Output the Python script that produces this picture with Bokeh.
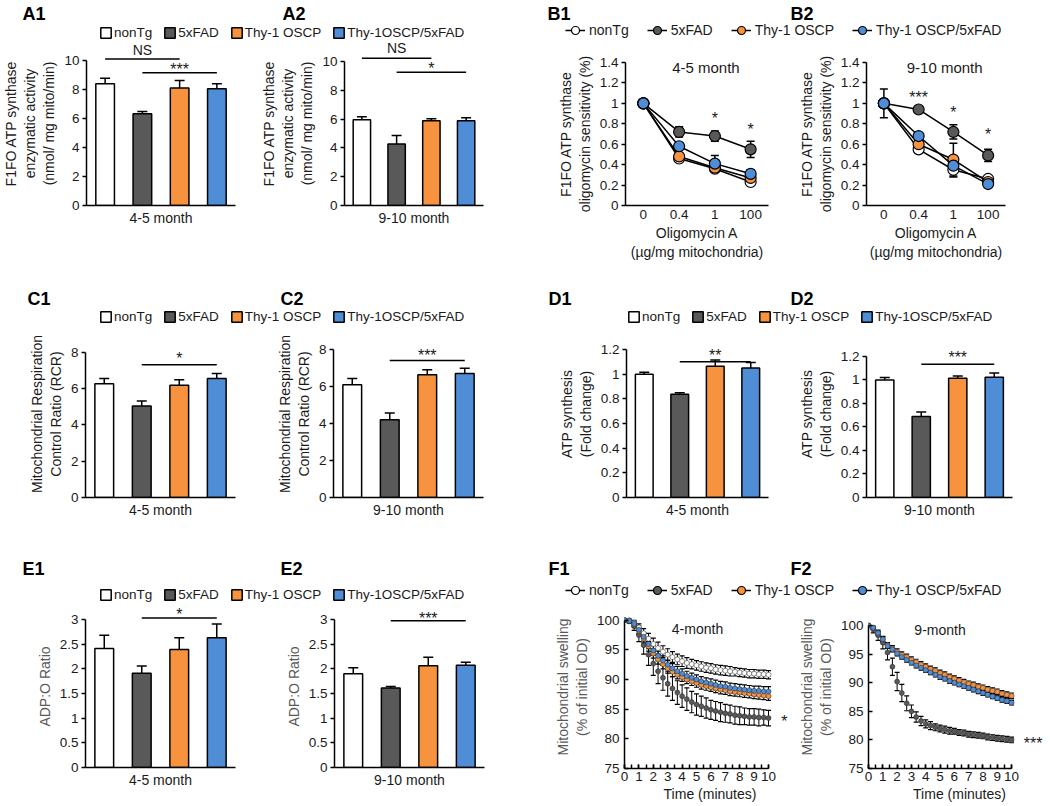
from bokeh.plotting import figure
from bokeh.layouts import row, column
from bokeh.models import (Range1d, FixedTicker, CustomJSTickFormatter, Legend, LegendItem,
                          Label, ColumnDataSource)
from bokeh.core.properties import value
from bokeh.embed import file_html
from bokeh.resources import INLINE

FONT = "Liberation Sans"

# ---------------- data ----------------
groups_bar = ["nonTg", "5xFAD", "Thy-1 OSCP", "Thy-1OSCP/5xFAD"]
groups_line = ["nonTg", "5xFAD", "Thy-1 OSCP", "Thy-1 OSCP/5xFAD"]
colors = ["#FFFFFF", "#595959", "#F7923F", "#4F8DD6"]

A1_vals = [8.39, 6.32, 8.11, 8.05]
A1_err = [0.39, 0.16, 0.51, 0.34]
A2_vals = [5.96, 4.27, 5.89, 5.89]
A2_err = [0.21, 0.60, 0.14, 0.21]
C1_vals = [6.28, 5.05, 6.19, 6.56]
C1_err = [0.28, 0.27, 0.30, 0.28]
C2_vals = [6.10, 4.20, 6.64, 6.71]
C2_err = [0.34, 0.37, 0.27, 0.28]
D1_vals = [1.00, 0.837, 1.065, 1.049]
D1_err = [0.015, 0.013, 0.049, 0.046]
D2_vals = [1.00, 0.690, 1.014, 1.024]
D2_err = [0.022, 0.037, 0.019, 0.036]
E1_vals = [2.41, 1.91, 2.39, 2.63]
E1_err = [0.27, 0.15, 0.24, 0.28]
E2_vals = [1.90, 1.61, 2.06, 2.07]
E2_err = [0.12, 0.03, 0.17, 0.06]

# significance brackets: (from group, to group, line level, text level, text)
A1_sig = [(0, 2, 10.11, 10.69, "NS"), (1, 3, 9.15, 9.38, "***")]
A2_sig = [(0, 2, 10.23, 10.95, "NS"), (1, 3, 9.26, 9.49, "*")]
C1_sig = [(1, 3, 7.32, 7.64, "*")]
C2_sig = [(1, 3, 7.41, 7.66, "***")]
D1_sig = [(1, 3, 1.10, 1.155, "**")]
D2_sig = [(1, 3, 1.134, 1.19, "***")]
E1_sig = [(1, 3, 3.03, 3.10, "*")]
E2_sig = [(1, 3, 2.97, 3.02, "***")]

# oligomycin dose-response
doses = ["0", "0.4", "1", "100"]
B1_vals = [[1.0, 0.46, 0.36, 0.23], [1.0, 0.72, 0.68, 0.55],
           [1.0, 0.48, 0.37, 0.27], [1.0, 0.58, 0.41, 0.31]]
B1_err = [[0.03, 0.02, 0.03, 0.03], [0.03, 0.05, 0.05, 0.08],
          [0.02, 0.03, 0.03, 0.03], [0.02, 0.03, 0.08, 0.04]]
B1_stars = [(2, 0.85, "*"), (3, 0.74, "*")]
B2_vals = [[1.0, 0.55, 0.35, 0.26], [1.0, 0.94, 0.72, 0.49],
           [1.0, 0.60, 0.45, 0.23], [1.0, 0.68, 0.39, 0.21]]
B2_err = [[0.14, 0.02, 0.07, 0.02], [0.02, 0.02, 0.07, 0.06],
          [0.02, 0.03, 0.16, 0.02], [0.02, 0.03, 0.05, 0.02]]
B2_stars = [(1, 1.06, "***"), (2, 0.91, "*"), (3, 0.70, "*")]

# swelling time course (minutes)
time_min = [0, 0.33, 0.67, 1, 1.33, 1.67, 2, 2.33, 2.67, 3, 3.33, 3.67, 4, 4.33, 4.67, 5,
            5.33, 5.67, 6, 6.33, 6.67, 7, 7.33, 7.67, 8, 8.33, 8.67, 9, 9.33, 9.67, 10]
F1_nonTg = [100, 100, 99.6, 98.8, 97.8, 96.9, 96.0, 95.3, 94.7, 94.2, 93.8, 93.4, 93.1, 92.8,
            92.6, 92.4, 92.2, 92.0, 91.9, 91.7, 91.6, 91.5, 91.4, 91.3, 91.2, 91.1, 91.0, 91.0,
            90.9, 90.9, 90.8]
F1_5xFAD = [100, 99.8, 99.0, 97.5, 95.8, 94.2, 92.7, 91.4, 90.3, 89.3, 88.5, 87.8, 87.2, 86.7,
            86.2, 85.8, 85.5, 85.2, 84.9, 84.7, 84.5, 84.3, 84.2, 84.0, 83.9, 83.8, 83.7, 83.7,
            83.6, 83.6, 83.5]
F1_OSCP = [100, 99.9, 99.3, 98.2, 96.9, 95.6, 94.4, 93.4, 92.6, 91.9, 91.3, 90.8, 90.4, 90.0,
           89.7, 89.4, 89.1, 88.9, 88.7, 88.5, 88.3, 88.2, 88.0, 87.9, 87.8, 87.7, 87.6, 87.5,
           87.4, 87.3, 87.2]
F1_OSCP5x = [100, 99.9, 99.4, 98.4, 97.2, 96.0, 94.9, 94.0, 93.2, 92.5, 91.9, 91.4, 91.0, 90.6,
             90.3, 90.0, 89.7, 89.5, 89.3, 89.1, 88.9, 88.8, 88.6, 88.5, 88.4, 88.3, 88.2, 88.1,
             88.1, 88.0, 88.0]
F1_nonTg_err = [0.0, 0.2, 0.4, 0.6, 0.8, 0.9, 1.0, 1.0, 1.0, 1.0, 0.9, 0.9, 0.9, 0.9, 0.8, 0.8,
                0.8, 0.8, 0.8, 0.8, 0.8, 0.8, 0.8, 0.7, 0.7, 0.7, 0.7, 0.7, 0.7, 0.7, 0.7]
F1_5xFAD_err = [0.0, 0.3, 0.7, 1.1, 1.5, 1.8, 2.0, 2.1, 2.1, 2.1, 2.0, 2.0, 1.9, 1.9, 1.8, 1.8,
                1.7, 1.7, 1.6, 1.6, 1.6, 1.5, 1.5, 1.5, 1.5, 1.4, 1.4, 1.4, 1.4, 1.3, 1.3]
F1_OSCP_err = [0.0, 0.2, 0.4, 0.6, 0.7, 0.8, 0.8, 0.8, 0.8, 0.8, 0.8, 0.7, 0.7, 0.7, 0.7, 0.7,
               0.7, 0.7, 0.7, 0.7, 0.7, 0.7, 0.7, 0.7, 0.7, 0.7, 0.7, 0.7, 0.7, 0.7, 0.7]
F1_OSCP5x_err = [0.0, 0.2, 0.4, 0.6, 0.7, 0.8, 0.8, 0.8, 0.8, 0.8, 0.8, 0.8, 0.8, 0.8, 0.8, 0.8,
                 0.8, 0.8, 0.8, 0.8, 0.8, 0.8, 0.8, 0.8, 0.8, 0.8, 0.8, 0.8, 0.8, 0.8, 0.8]

F2_5xFAD = [100, 99.3, 98.3, 97.0, 95.3, 92.8, 90.2, 88.2, 86.4, 85.0, 84.0, 83.3, 82.8, 82.5,
            82.2, 82.0, 81.8, 81.6, 81.5, 81.3, 81.2, 81.0, 80.9, 80.8, 80.7, 80.5, 80.4, 80.3,
            80.2, 80.1, 80.0]
F2_OSCP = [100, 99.6, 98.7, 97.6, 96.6, 96.0, 95.4, 94.9, 94.5, 94.0, 93.6, 93.2, 92.8, 92.4,
           92.1, 91.7, 91.4, 91.0, 90.7, 90.4, 90.1, 89.8, 89.6, 89.3, 89.1, 88.8, 88.6, 88.4,
           88.1, 87.9, 87.7]
F2_OSCP5x = [100, 99.6, 98.7, 97.6, 96.4, 95.8, 95.1, 94.5, 94.0, 93.5, 93.0, 92.6, 92.2, 91.8,
             91.4, 91.0, 90.7, 90.3, 90.0, 89.7, 89.4, 89.1, 88.8, 88.5, 88.2, 87.9, 87.6, 87.3,
             87.0, 86.8, 86.5]
F2_5xFAD_err = [0.0, 0.6, 0.9, 1.1, 1.3, 1.5, 1.6, 1.5, 1.3, 1.1, 0.9, 0.8, 0.7, 0.7, 0.6, 0.6,
                0.6, 0.6, 0.5, 0.5, 0.5, 0.5, 0.5, 0.5, 0.5, 0.5, 0.5, 0.5, 0.5, 0.5, 0.5]
F2_OSCP_err = [0.0, 0.2, 0.3, 0.4, 0.4, 0.5, 0.5, 0.5, 0.5, 0.5, 0.5, 0.5, 0.5, 0.5, 0.5, 0.5,
               0.5, 0.5, 0.5, 0.5, 0.5, 0.5, 0.5, 0.5, 0.5, 0.5, 0.5, 0.5, 0.5, 0.5, 0.5]
F2_OSCP5x_err = [0.0, 0.2, 0.3, 0.4, 0.4, 0.4, 0.4, 0.4, 0.4, 0.4, 0.4, 0.4, 0.4, 0.4, 0.4, 0.4,
                 0.4, 0.4, 0.4, 0.4, 0.4, 0.4, 0.4, 0.4, 0.4, 0.4, 0.4, 0.4, 0.4, 0.4, 0.4]
F1_stars = [(11.1, 83.0, "*")]
F2_stars = [(11.5, 79.3, "***")]

# ---------------- helpers ----------------
FMT = CustomJSTickFormatter(code="return String(Number(tick.toFixed(3)));")


def base_fig(w, h, xr, yr, bl, br, bt, bb):
    p = figure(width=w, height=h, x_range=xr, y_range=yr, output_backend="svg",
               toolbar_location=None, min_border_left=bl, min_border_right=br,
               min_border_top=bt, min_border_bottom=bb)
    p.xgrid.visible = False
    p.ygrid.visible = False
    p.outline_line_color = None
    p.background_fill_color = None
    p.border_fill_color = None
    for ax in p.xaxis + p.yaxis:
        ax.axis_line_width = 1.5
        ax.axis_line_color = "black"
        ax.major_tick_line_width = 1.5
        ax.major_tick_line_color = "black"
        ax.minor_tick_line_color = None
        ax.major_label_text_font = FONT
        ax.major_label_text_font_size = "13.5px"
        ax.major_label_text_color = "#1a1a1a"
        ax.axis_label_text_font = FONT
        ax.axis_label_text_font_size = "14px"
        ax.axis_label_text_font_style = "normal"
        ax.axis_label_text_color = "#1a1a1a"
    return p


def add_text(p, xs, ys, texts, size="14px", align="center", baseline="middle"):
    p.text(x=xs, y=ys, text=texts, text_font=value(FONT), text_font_size=size,
           text_align=align, text_baseline=baseline, text_color="#1a1a1a")


def mark_size(txt):
    return "16px" if "*" in txt else "14px"


def bar_panel(vals, errs, sigs, yend, ytop, yticks, ylabel, xlabel, w, h, bl, br, bt, bb,
              ylabel_color="#1a1a1a"):
    p = base_fig(w, h, Range1d(-0.5, 3.5), Range1d(0, yend), bl, br, bt, bb)
    idx = list(range(len(vals)))
    src = ColumnDataSource(dict(x=idx, top=vals, etop=[v + e for v, e in zip(vals, errs)],
                                color=colors))
    p.vbar(x="x", top="top", width=0.5, fill_color="color", line_color="black",
           line_width=1.5, source=src)
    p.segment(x0="x", y0="top", x1="x", y1="etop", line_color="black", line_width=1.5, source=src)
    p.scatter(x="x", y="etop", marker="dash", size=10, line_color="black", line_width=1.5,
              source=src)
    for i, j, ly, ty, txt in sigs:
        p.segment(x0=[i], y0=[ly], x1=[j], y1=[ly], line_color="black", line_width=1.5)
        add_text(p, [(i + j) / 2], [ty], [txt], size=mark_size(txt))
    p.xaxis.ticker = FixedTicker(ticks=[])
    p.xaxis.axis_label = xlabel
    p.xaxis.axis_label_standoff = 4
    p.yaxis.ticker = FixedTicker(ticks=yticks)
    p.yaxis.formatter = FMT
    p.yaxis.bounds = (0, ytop)
    p.yaxis.major_tick_out = 4
    p.yaxis.major_tick_in = 0
    p.yaxis.major_label_standoff = 3
    p.yaxis.axis_label = ylabel
    p.yaxis.axis_label_standoff = 4
    p.yaxis.axis_label_text_color = ylabel_color
    return p


def dose_panel(vals, errs, stars, title, w, h, bl, br, bt, bb):
    p = base_fig(w, h, Range1d(-0.5, 3.5), Range1d(0, 1.4), bl, br, bt, bb)
    idx = list(range(len(doses)))
    for series, err, col in zip(vals, errs, colors):
        lo = [v - e for v, e in zip(series, err)]
        hi = [v + e for v, e in zip(series, err)]
        p.segment(x0=idx, y0=lo, x1=idx, y1=hi, line_color="black", line_width=1.5)
        p.scatter(x=idx + idx, y=lo + hi, marker="dash", size=8, line_color="black",
                  line_width=1.5)
    for series, col in zip(vals, colors):
        p.line(x=idx, y=series, line_color="black", line_width=1.5)
        p.scatter(x=idx, y=series, size=11, fill_color=col, line_color="black", line_width=1.2)
    for x, y, txt in stars:
        add_text(p, [x], [y], [txt], size="16px")
    add_text(p, [1.75], [1.355], [title], size="15px")
    p.xaxis.ticker = FixedTicker(ticks=idx)
    p.xaxis.major_label_overrides = {i: d for i, d in enumerate(doses)}
    p.xaxis.major_tick_out = 0
    p.xaxis.major_tick_in = 0
    p.xaxis.major_label_standoff = 4
    p.xaxis.axis_label = "Oligomycin A\n(\u00b5g/mg mitochondria)"
    p.xaxis.axis_label_standoff = 3
    p.yaxis.ticker = FixedTicker(ticks=[0, 0.2, 0.4, 0.6, 0.8, 1, 1.2, 1.4])
    p.yaxis.formatter = FMT
    p.yaxis.major_tick_out = 4
    p.yaxis.major_tick_in = 0
    p.yaxis.major_label_standoff = 3
    p.yaxis.axis_label = "F1FO ATP synthase\noligomycin sensitivity (%)"
    p.yaxis.axis_label_standoff = 4
    return p


def swell_panel(series_list, err_list, cols, stars, title, title_xy, xend, yend,
                w, h, bl, br, bt, bb):
    p = base_fig(w, h, Range1d(0, xend), Range1d(75, yend), bl, br, bt, bb)
    for series, err in zip(series_list, err_list):
        lo = [v - e for v, e in zip(series, err)]
        hi = [v + e for v, e in zip(series, err)]
        p.segment(x0=time_min, y0=lo, x1=time_min, y1=hi, line_color="black", line_width=1.0)
        p.scatter(x=time_min + time_min, y=lo + hi, marker="dash", size=5, line_color="black",
                  line_width=1.2)
    for series, col in zip(series_list, cols):
        p.scatter(x=time_min, y=series, size=5, fill_color=col, line_color="#222222",
                  line_width=0.5)
    for x, y, txt in stars:
        add_text(p, [x], [y], [txt], size="16px")
    add_text(p, [title_xy[0]], [title_xy[1]], [title])
    p.xaxis.ticker = FixedTicker(ticks=list(range(11)),
                                 minor_ticks=[i / 2 for i in range(21)])
    p.xaxis.bounds = (0, 10)
    p.xaxis.major_tick_in = 4
    p.xaxis.major_tick_out = 0
    p.xaxis.minor_tick_in = 4
    p.xaxis.minor_tick_out = 0
    p.xaxis.minor_tick_line_color = "black"
    p.xaxis.minor_tick_line_width = 1.5
    p.xaxis.major_label_standoff = 3
    p.xaxis.axis_label = "Time (minutes)"
    p.xaxis.axis_label_standoff = 2
    p.yaxis.ticker = FixedTicker(ticks=[75, 80, 85, 90, 95, 100])
    p.yaxis.bounds = (75, 100)
    p.yaxis.major_tick_in = 4
    p.yaxis.major_tick_out = 0
    p.yaxis.major_label_standoff = 5
    p.yaxis.axis_label = "Mitochondrial swelling\n(% of initial OD)"
    p.yaxis.axis_label_text_color = "#595959"
    p.yaxis.axis_label_standoff = 4
    return p


def header(w, h, labels, legend_kind, lx, ly):
    p = figure(width=w, height=h, x_range=Range1d(0, w), y_range=Range1d(0, h),
               output_backend="svg", toolbar_location=None, min_border=0)
    p.axis.visible = False
    p.grid.visible = False
    p.outline_line_color = None
    p.background_fill_color = None
    p.border_fill_color = None
    for x, y, t in labels:
        p.add_layout(Label(x=x, y=y, text=t, text_font=FONT, text_font_size="18px",
                           text_font_style="bold", text_baseline="alphabetic",
                           text_color="black"))
    items = []
    off = [-100, -90]  # legend proxies live outside the visible range
    if legend_kind == "bar":
        for name, col in zip(groups_bar, colors):
            r = p.quad(left=[off[0]], right=[off[1]], top=[off[0]], bottom=[off[1]],
                       fill_color=col, line_color="black", line_width=1.5)
            items.append(LegendItem(label=name, renderers=[r]))
        leg = Legend(items=items, glyph_width=13, glyph_height=13, label_standoff=2,
                     spacing=11, label_text_font_size="13.5px")
    else:
        for name, col in zip(groups_line, colors):
            r1 = p.line(x=off, y=off, line_color="black", line_width=1.5)
            r2 = p.scatter(x=off, y=off, size=11, fill_color=col, line_color="black",
                           line_width=1.2)
            items.append(LegendItem(label=name, renderers=[r1, r2]))
        leg = Legend(items=items, glyph_width=20, glyph_height=22, label_standoff=4,
                     spacing=18, label_text_font_size="14px")
    leg.orientation = "horizontal"
    leg.location = (lx, ly)
    leg.padding = 0
    leg.margin = 0
    leg.border_line_color = None
    leg.background_fill_alpha = 0
    leg.label_text_font = FONT
    leg.label_text_color = "#1a1a1a"
    leg.label_height = 14
    p.add_layout(leg, "center")
    return p


# ---------------- panels ----------------
A_lab = "F1FO ATP synthase\nenzymatic activity\n(nmol/ mg mito/min)"
C_lab = "Mitochondrial Respiration\nControl Ratio (RCR)"
D_lab = "ATP synthesis\n(Fold change)"
E_lab = "ADP:O Ratio"

hA = header(515, 41, [(22, 28, "A1"), (282, 28, "A2")], "bar", 99, 1)
A1 = bar_panel(A1_vals, A1_err, A1_sig, 11.31, 10, [0, 2, 4, 6, 8, 10], A_lab, "4-5 month",
               258, 234, 85, 23, 0, 70)
A2 = bar_panel(A2_vals, A2_err, A2_sig, 11.39, 10, [0, 2, 4, 6, 8, 10], A_lab, "9-10 month",
               257, 234, 75, 32, 0, 70)
hC = header(515, 55, [(27, 32, "C1"), (280, 32, "C2")], "bar", 99, 6)
C1 = bar_panel(C1_vals, C1_err, C1_sig, 9.21, 8, [0, 2, 4, 6, 8], C_lab, "4-5 month",
               258, 195, 85, 23, 0, 28)
C2 = bar_panel(C2_vals, C2_err, C2_sig, 9.03, 8, [0, 2, 4, 6, 8], C_lab, "9-10 month",
               257, 195, 75, 32, 0, 28)
hE = header(515, 80, [(22, 37, "E1"), (280, 37, "E2")], "bar", 99, 3)
E1 = bar_panel(E1_vals, E1_err, E1_sig, 3.284, 3, [0, 0.5, 1, 1.5, 2, 2.5, 3], E_lab,
               "4-5 month", 258, 199, 85, 23, 0, 37, ylabel_color="#595959")
E2 = bar_panel(E2_vals, E2_err, E2_sig, 3.28, 3, [0, 0.5, 1, 1.5, 2, 2.5, 3], E_lab,
               "9-10 month", 257, 199, 76, 31, 0, 36, ylabel_color="#595959")

hB = header(535, 41, [(32, 28, "B1"), (275, 28, "B2")], "line", 50, 0)
B1 = dose_panel(B1_vals, B1_err, B1_stars, "4-5 month", 280, 234, 110, 27, 21, 70)
B2 = dose_panel(B2_vals, B2_err, B2_stars, "9-10 month", 255, 234, 68, 45, 21, 68)
hD = header(535, 55, [(33, 32, "D1"), (275, 32, "D2")], "bar", 112, 6)
D1 = bar_panel(D1_vals, D1_err, D1_sig, 1.354, 1.2, [0, 0.2, 0.4, 0.6, 0.8, 1, 1.2], D_lab,
               "4-5 month", 280, 195, 111, 27, 0, 28)
D2 = bar_panel(D2_vals, D2_err, D2_sig, 1.421, 1.2, [0, 0.2, 0.4, 0.6, 0.8, 1, 1.2], D_lab,
               "9-10 month", 255, 195, 68, 38, 0, 28)
hF = header(535, 80, [(33, 37, "F1"), (275, 37, "F2")], "line", 50, 4)
F1 = swell_panel([F1_nonTg, F1_5xFAD, F1_OSCP, F1_OSCP5x],
                 [F1_nonTg_err, F1_5xFAD_err, F1_OSCP_err, F1_OSCP5x_err],
                 colors, F1_stars, "4-month", (5.07, 98.5), 11.875, 102.49,
                 280, 199, 109, 0, 0, 36)
F2 = swell_panel([F2_5xFAD, F2_OSCP, F2_OSCP5x],
                 [F2_5xFAD_err, F2_OSCP_err, F2_OSCP5x_err],
                 colors[1:], F2_stars, "9-month", (5.0, 99.3), 12.72, 103.5,
                 255, 199, 68, 0, 0, 36)

left = column(hA, row(A1, A2), hC, row(C1, C2), hE, row(E1, E2))
right = column(hB, row(B1, B2), hD, row(D1, D2), hF, row(F1, F2))
page = row(left, right)

open("out.html", "w").write(file_html(page, INLINE))
